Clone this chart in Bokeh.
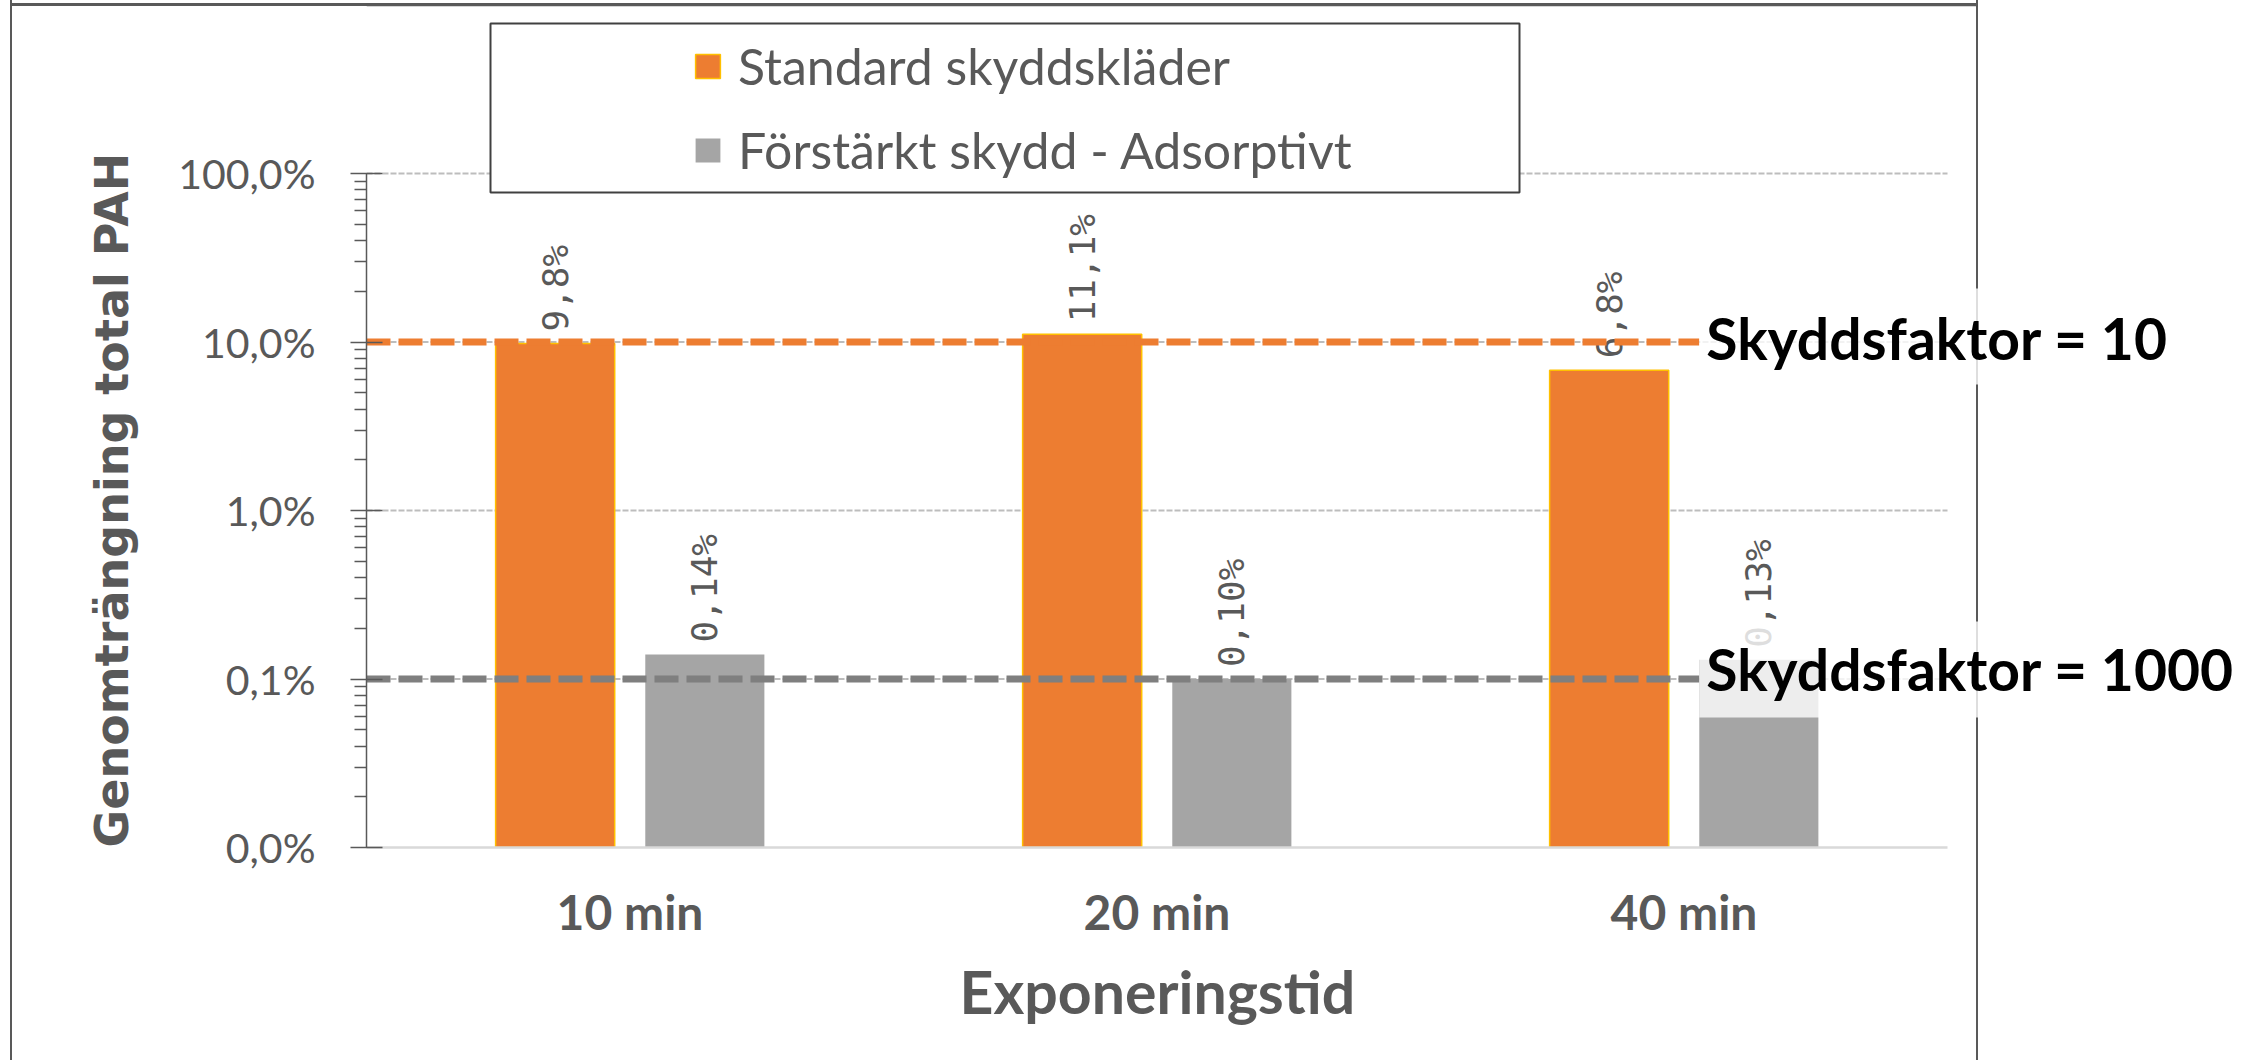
import math
from bokeh.plotting import figure
from bokeh.models import (Range1d, FixedTicker, Legend, LegendItem, Label,
                          BoxAnnotation, ColumnDataSource, Title)
from bokeh.core.properties import value
from bokeh.embed import file_html
from bokeh.resources import INLINE

# ---------------- data ----------------
categories = ["10 min", "20 min", "40 min"]
series_names = ["Standard skyddskläder", "Förstärkt skydd - Adsorptivt"]
standard = [9.8, 11.1, 6.8]            # percent
forstarkt = [0.14, 0.10, 0.13]         # percent
standard_labels = ["9,8%", "11,1%", "6,8%"]
forstarkt_labels = ["0,14%", "0,10%", "0,13%"]
y_ticks = [0.01, 0.1, 1, 10, 100]
y_tick_labels = ["0,0%", "0,1%", "1,0%", "10,0%", "100,0%"]
ref_values = [10, 0.1]
ref_labels = ["Skyddsfaktor = 10", "Skyddsfaktor = 1000"]
x_title = "Exponeringstid"
y_title = "Genomträngning total PAH"

# ---------------- layout (page px; the page has no margin) ----------------
W, H = 2250, 1060
FL = 366            # frame left
FB = 847            # frame bottom; frame top = 0
CAT = 527           # px per category
DEC = 168.5         # px per decade
Y0, Y1 = 0.01, 100
NCAT = len(categories)
OFF, BW = 0.142, 0.226

ORANGE, GOLD, GRAY = "#ED7D31", "#FFC000", "#A5A5A5"
TXT = "#595959"
FONT = "Lato"

x_end = (W - FL) / CAT
y_end = Y0 * 10 ** (FB / DEC)


def xd(fx):
    return (fx - FL) / CAT


def yd(fy):
    return 10 ** (math.log10(Y0) + (FB - fy) / DEC)


p = figure(width=W, height=H, x_range=Range1d(0, x_end), y_range=Range1d(Y0, y_end),
           y_axis_type="log", output_backend="svg", toolbar_location=None,
           min_border_left=FL, min_border_top=0, min_border_right=0,
           min_border_bottom=H - FB)
p.outline_line_color = None
p.background_fill_color = None
p.border_fill_color = None
line = "linear-gradient(#595959, #595959)"
p.styles = {
    "background-image": f"{line}, {line}, {line}",
    "background-size": "2px 100%, 1968px 3px, 2px 100%",
    "background-position": "10px 0px, 10px 3px, 1976px 0px",
    "background-repeat": "no-repeat",
}

centers = [i + 0.5 for i in range(NCAT)]
src_o = ColumnDataSource(dict(x=[c - OFF for c in centers], top=standard, lab=standard_labels))
src_g = ColumnDataSource(dict(x=[c + OFF for c in centers], top=forstarkt, lab=forstarkt_labels))

# grid lines (only across the category area)
grid = p.segment(x0=0, x1=NCAT, y0=y_ticks[1:], y1=y_ticks[1:], line_color="#BDBDBD",
                 line_dash="6 2", line_width=1.8)
grid.level = "underlay"

# top border of the chart area inside the plotting frame
p.segment(x0=0, x1=xd(1977), y0=yd(4.5), y1=yd(4.5), line_color=TXT, line_width=2.5)

r_o = p.vbar(x="x", top="top", bottom=Y0, width=BW, fill_color=ORANGE,
             line_color=GOLD, line_width=1.5, source=src_o)
r_g = p.vbar(x="x", top="top", bottom=Y0, width=BW, fill_color=GRAY,
             line_color=None, source=src_g)

for src in (src_o, src_g):
    p.text(x="x", y="top", text="lab", angle=math.pi / 2, text_align="left",
           text_baseline="middle", y_offset=-12, text_color=TXT,
           text_font=value("DejaVu Sans Mono"), text_font_size="36px", source=src)

# ---------------- axes ----------------
minor = [k * 10 ** e for e in range(-2, 2) for k in range(2, 10)]
p.yaxis.ticker = FixedTicker(ticks=y_ticks, minor_ticks=minor)
p.yaxis.bounds = (Y0, Y1)
p.yaxis.major_label_overrides = {t: l for t, l in zip(y_ticks, y_tick_labels)}
p.yaxis.axis_line_color = TXT
p.yaxis.axis_line_width = 1.5
p.yaxis.major_tick_line_color = TXT
p.yaxis.major_tick_line_width = 1.5
p.yaxis.minor_tick_line_color = TXT
p.yaxis.minor_tick_line_width = 1.5
p.yaxis.major_tick_in = 16
p.yaxis.major_tick_out = 16
p.yaxis.minor_tick_in = 0
p.yaxis.minor_tick_out = 12
p.yaxis.major_label_text_font = FONT
p.yaxis.major_label_text_font_size = "41px"
p.yaxis.major_label_text_color = TXT
p.yaxis.major_label_standoff = 35

p.xaxis.ticker = FixedTicker(ticks=centers)
p.xaxis.bounds = (0, NCAT)
p.xaxis.major_label_overrides = {c: n for c, n in zip(centers, categories)}
p.xaxis.axis_line_color = "#D9D9D9"
p.xaxis.axis_line_width = 2.5
p.xaxis.major_tick_line_color = None
p.xaxis.minor_tick_line_color = None
p.xaxis.major_label_text_font = FONT
p.xaxis.major_label_text_font_style = "bold"
p.xaxis.major_label_text_font_size = "48px"
p.xaxis.major_label_text_color = TXT
p.xaxis.major_label_standoff = 29

p.xgrid.visible = False
p.ygrid.visible = False

# axis titles (aligned to the plotted area, not the whole frame)
p.add_layout(Title(text=y_title, align="left", offset=0, standoff=74,
                   text_font="DejaVu Sans", text_font_style="bold",
                   text_font_size="46px", text_color=TXT), "left")
p.add_layout(Title(text=x_title, align="left", offset=593, standoff=22,
                   text_font=FONT, text_font_style="bold",
                   text_font_size="59px", text_color=TXT), "below")

# ---------------- reference lines ----------------
x_box = centers[-1] + OFF - BW / 2
p.segment(x0=0, x1=x_box, y0=ref_values, y1=ref_values,
          line_color=[ORANGE, "#7F7F7F"], line_width=7, line_dash="24 8")

# ---------------- legend ----------------
p.add_layout(BoxAnnotation(left=xd(490), right=xd(1519), top=yd(23), bottom=yd(192),
                           fill_color="white", fill_alpha=1, line_color="#404040",
                           line_alpha=1, line_width=2))

legend = Legend(items=[LegendItem(label=series_names[0], renderers=[r_o]),
                       LegendItem(label=series_names[1], renderers=[r_g])],
                location=(326, 667), orientation="vertical",
                glyph_width=31, glyph_height=30, label_height=60, spacing=24,
                label_standoff=15, padding=0, margin=0,
                border_line_color=None, background_fill_alpha=0,
                label_text_font=FONT, label_text_font_size="50px",
                label_text_color=TXT)
p.add_layout(legend, "center")

# ---------------- reference-line labels with translucent boxes ----------------
box_tops = [288, 621]
box_bottoms = [384, 717]
label_lift = [4, 10]
for bt, bb in zip(box_tops, box_bottoms):
    p.add_layout(BoxAnnotation(left=x_box, right=xd(W + 10), top=yd(bt), bottom=yd(bb),
                               fill_color="white", fill_alpha=0.8, line_color=None))
for v, t, lift in zip(ref_values, ref_labels, label_lift):
    p.add_layout(Label(x=x_box, y=v, text=t, x_offset=7, y_offset=lift,
                       text_baseline="middle", text_align="left",
                       text_font=FONT, text_font_style="bold",
                       text_font_size="57px", text_color="black"))

open("out.html", "w").write(file_html(p, INLINE))
